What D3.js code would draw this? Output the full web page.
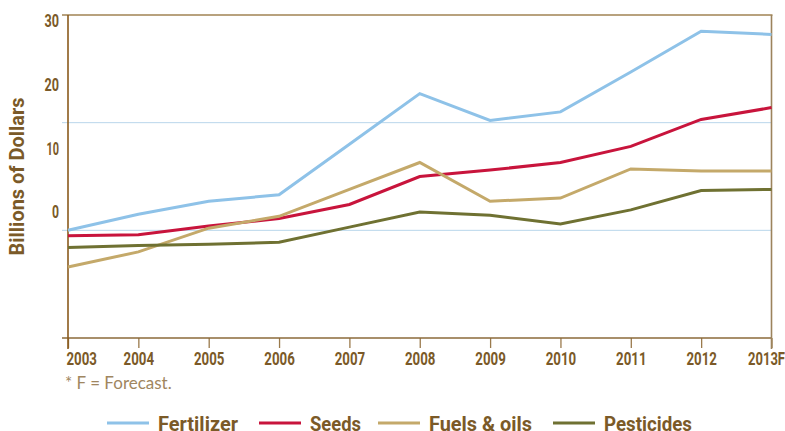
<!DOCTYPE html>
<html>
<head>
<meta charset="utf-8">
<script src="https://cdn.jsdelivr.net/npm/d3@7"></script>
<style>
  html, body { margin: 0; padding: 0; background: #fff; }
  svg { display: block; }
  .cond { font-family: Roboto, "Liberation Sans", sans-serif; font-weight: bold; }
</style>
</head>
<body>
<svg id="chart" width="785" height="431"></svg>
<script>
// ---- Data (billions of dollars) ----
const years = [2003, 2004, 2005, 2006, 2007, 2008, 2009, 2010, 2011, 2012, 2013];
const yearLabels = ["2003", "2004", "2005", "2006", "2007", "2008", "2009", "2010", "2011", "2012", "2013F"];
const fertilizer = [10.0, 11.5, 12.7, 13.3, 18.0, 22.7, 20.2, 21.0, 24.7, 28.5, 28.2];
const seeds      = [9.5, 9.6, 10.4, 11.1, 12.4, 15.0, 15.6, 16.3, 17.8, 20.3, 21.4];
const fuels      = [6.6, 8.0, 10.2, 11.3, 13.8, 16.3, 12.7, 13.0, 15.7, 15.5, 15.5];
const pesticides = [8.4, 8.6, 8.7, 8.9, 10.3, 11.7, 11.4, 10.6, 11.9, 13.7, 13.8];
const yTickValues = [0, 10, 20, 30];
const gridValues = [10, 20];
const seriesNames = ["Fertilizer", "Seeds", "Fuels & oils", "Pesticides"];
const seriesColors = ["#8ec2e8", "#c8143c", "#c4a96a", "#6f7132"];
const footnote = "* F = Forecast.";
const yTitle = "Billions of Dollars";

const seriesValues = [fertilizer, seeds, fuels, pesticides];

const svg = d3.select("#chart");
const textColor = "#7b5a28";

const x = d3.scaleLinear().domain([2003, 2013]).range([68, 771.5]);
const y = d3.scaleLinear().domain([0, 30]).range([338, 15]);
// tick labels in the original are drawn offset from the value scale
const yLabel = y.copy().range([y(0) - 126, y(30) + 6]);

// condensed look (Gill Sans Bold Condensed in the original): fit text to a target width
function fit(sel, widthFn) {
  sel.each(function (d, i) {
    d3.select(this).attr("textLength", widthFn(this.textContent, i)).attr("lengthAdjust", "spacingAndGlyphs");
  });
}
const condensedWidth = t => {
  const per = { "1": 5.5, "F": 6 };
  let w = 0;
  for (const c of t) w += per[c] !== undefined ? per[c] : 7.6;
  return w;
};

// gridlines
svg.append("g").selectAll("line").data(gridValues).join("line")
  .attr("x1", 62).attr("x2", x(2013))
  .attr("y1", d => y(d)).attr("y2", d => y(d))
  .attr("stroke", "#b9d6eb").attr("stroke-width", 1);

// top frame line
svg.append("line")
  .attr("x1", 62).attr("x2", x(2013) + 1)
  .attr("y1", y(30)).attr("y2", y(30))
  .attr("stroke", "#b8a27e").attr("stroke-width", 2);

// x axis
const xAxis = d3.axisBottom(x)
  .tickValues(years)
  .tickFormat((d, i) => yearLabels[i])
  .tickSize(10)
  .tickPadding(4);
const gx = svg.append("g").attr("transform", `translate(0,${y(0)})`).call(xAxis);
gx.select(".domain").remove();
gx.selectAll(".tick line").attr("stroke", "#9a7a4c").attr("stroke-width", 1.3);
gx.selectAll(".tick text")
  .attr("class", "cond")
  .attr("fill", textColor)
  .attr("font-size", 19)
  .attr("text-anchor", (d, i) => i === 0 ? "start" : (i === years.length - 1 ? "end" : "middle"))
  .attr("dx", (d, i) => i === 0 ? -2 : (i === years.length - 1 ? 13 : 0))
  .call(fit, t => t.length === 5 ? 37 : 30.5);
svg.append("line")
  .attr("x1", 62).attr("x2", x(2013))
  .attr("y1", y(0)).attr("y2", y(0))
  .attr("stroke", "#8b6a3a").attr("stroke-width", 1.3);

// left & right axis lines
svg.append("line")
  .attr("x1", x(2003)).attr("x2", x(2003))
  .attr("y1", y(30)).attr("y2", y(0) + 11)
  .attr("stroke", "#8a5a1c").attr("stroke-width", 1.6);
svg.append("line")
  .attr("x1", x(2013)).attr("x2", x(2013))
  .attr("y1", y(30)).attr("y2", y(0) + 11)
  .attr("stroke", "#9c835c").attr("stroke-width", 1.6);

// y labels
const gy = svg.append("g").attr("transform", `translate(${x(2003)},0)`)
  .call(d3.axisLeft(yLabel).tickValues(yTickValues).tickSize(0).tickPadding(9));
gy.select(".domain").remove();
gy.selectAll(".tick text")
  .attr("class", "cond")
  .attr("fill", textColor)
  .attr("font-size", 18)
  .call(fit, t => t === "0" ? 7 : (t === "10" ? 12.5 : 14.5));

// y title
svg.append("text")
  .attr("class", "cond")
  .attr("transform", `translate(24,${(y(0) + y(30)) / 2 + 0}) rotate(-90)`)
  .attr("text-anchor", "middle")
  .attr("fill", textColor)
  .attr("font-size", 20)
  .text(yTitle)
  .call(fit, () => 158);

// lines
const line = d3.line().x((d, i) => x(years[i])).y(d => y(d));
svg.append("g").selectAll("path").data(seriesValues).join("path")
  .attr("d", d => line(d))
  .attr("fill", "none")
  .attr("stroke", (d, i) => seriesColors[i])
  .attr("stroke-width", 3)
  .attr("stroke-linejoin", "miter");

// footnote
svg.append("text")
  .attr("x", 65).attr("y", 389)
  .attr("font-family", "Lato, 'Open Sans', sans-serif")
  .attr("font-size", 17)
  .attr("fill", "#a08660")
  .text(footnote);

// legend
const legendX = [107, 259, 378, 553];
const legendW = [80, 51, 103, 88];
const lg = svg.append("g").selectAll("g").data(seriesNames).join("g")
  .attr("transform", (d, i) => `translate(${legendX[i]},423)`);
lg.append("line").attr("x1", 0).attr("x2", 42).attr("y1", 0).attr("y2", 0)
  .attr("stroke", (d, i) => seriesColors[i]).attr("stroke-width", 3);
lg.append("text").attr("class", "cond")
  .attr("x", 51).attr("y", 7.5)
  .attr("fill", textColor).attr("font-size", 21)
  .text(d => d)
  .call(fit, (t, i) => legendW[i]);
</script>
</body>
</html>
